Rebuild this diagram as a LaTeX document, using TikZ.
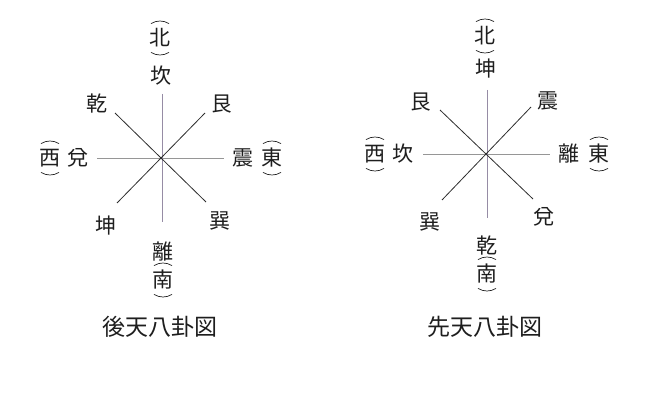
\documentclass[tikz,border=0pt]{standalone}
\usepackage{fontspec}
\newfontfamily\cjk{Noto Sans CJK JP}
\definecolor{vline}{RGB}{150,140,165}
\definecolor{hline}{RGB}{150,150,150}
\definecolor{dline}{RGB}{45,45,45}
\definecolor{ink}{RGB}{30,30,30}
\tikzset{
  lbl/.style={inner sep=0pt, text=ink, font=\cjk\fontsize{21}{21}\selectfont},
  ttl/.style={inner sep=0pt, text=ink, font=\cjk\fontsize{23}{23}\selectfont},
  vsp/.style={draw=vline, line width=0.6pt},
  hsp/.style={draw=hline, line width=0.6pt},
  dsp/.style={draw=dline, line width=0.8pt},
  parc/.style={draw=ink, line width=0.7pt}
}
\newcommand{\paren}[1]{%
  \draw[parc] ([shift={(58:17pt)}]#1.center) arc (58:122:17pt);
  \draw[parc] ([shift={(-122:17pt)}]#1.center) arc (-122:-58:17pt);
}
\begin{document}
\begin{tikzpicture}[x=1pt,y=-1pt]
\useasboundingbox (0,0) rectangle (651,404);
% ---------------- left: 後天八卦図 ----------------
\coordinate (c1) at (162,158);
\coordinate (c1n) at (162,94);
\coordinate (c1s) at (162,222);
\coordinate (c1w) at (97,158);
\coordinate (c1e) at (224,158);
\coordinate (c1ul) at (115,113);
\coordinate (c1lr) at (206,202);
\coordinate (c1ur) at (205,113);
\coordinate (c1ll) at (117,203);
\draw[hsp] (c1w) -- (c1e);
\draw[vsp] (c1n) -- (c1s);
\draw[dsp] (c1ul) -- (c1lr);
\draw[dsp] (c1ur) -- (c1ll);
\node[lbl] (l-bei) at (160,38) {北};
\node[lbl] (l-kan) at (161,76) {坎};
\node[lbl] (l-qian) at (97,104) {乾};
\node[lbl] (l-gen) at (222,104) {艮};
\node[lbl] (l-xi) at (50,158) {西};
\node[lbl] (l-dui) at (78,158) {兌};
\node[lbl] (l-zhen) at (243,158) {震};
\node[lbl] (l-dong) at (272,158) {東};
\node[lbl] (l-kun) at (106,226) {坤};
\node[lbl] (l-xun) at (220,221) {巽};
\node[lbl] (l-li) at (163,252) {離};
\node[lbl] (l-nan) at (163,280) {南};
\paren{l-bei}\paren{l-xi}\paren{l-dong}\paren{l-nan}
\node[ttl] (t1) at (160,327) {後天八卦図};
% ---------------- right: 先天八卦図 ----------------
\coordinate (c2) at (487,154);
\coordinate (c2n) at (487,90);
\coordinate (c2s) at (487,218);
\coordinate (c2w) at (423,154);
\coordinate (c2e) at (550,154);
\coordinate (c2ul) at (440,110);
\coordinate (c2lr) at (533,199);
\coordinate (c2ur) at (531,107);
\coordinate (c2ll) at (442,200);
\draw[hsp] (c2w) -- (c2e);
\draw[vsp] (c2n) -- (c2s);
\draw[dsp] (c2ul) -- (c2lr);
\draw[dsp] (c2ur) -- (c2ll);
\node[lbl] (r-bei) at (485,36) {北};
\node[lbl] (r-kun) at (486,69) {坤};
\node[lbl] (r-gen) at (421,102) {艮};
\node[lbl] (r-zhen) at (548,101) {震};
\node[lbl] (r-xi) at (375,154) {西};
\node[lbl] (r-kan) at (403,154) {坎};
\node[lbl] (r-li) at (569,154) {離};
\node[lbl] (r-dong) at (599,154) {東};
\node[lbl] (r-xun) at (430,222) {巽};
\node[lbl] (r-dui) at (544,217) {兌};
\node[lbl] (r-qian) at (487,246) {乾};
\node[lbl] (r-nan) at (487,274) {南};
\paren{r-bei}\paren{r-xi}\paren{r-dong}\paren{r-nan}
\node[ttl] (t2) at (485,327) {先天八卦図};
\end{tikzpicture}
\end{document}
